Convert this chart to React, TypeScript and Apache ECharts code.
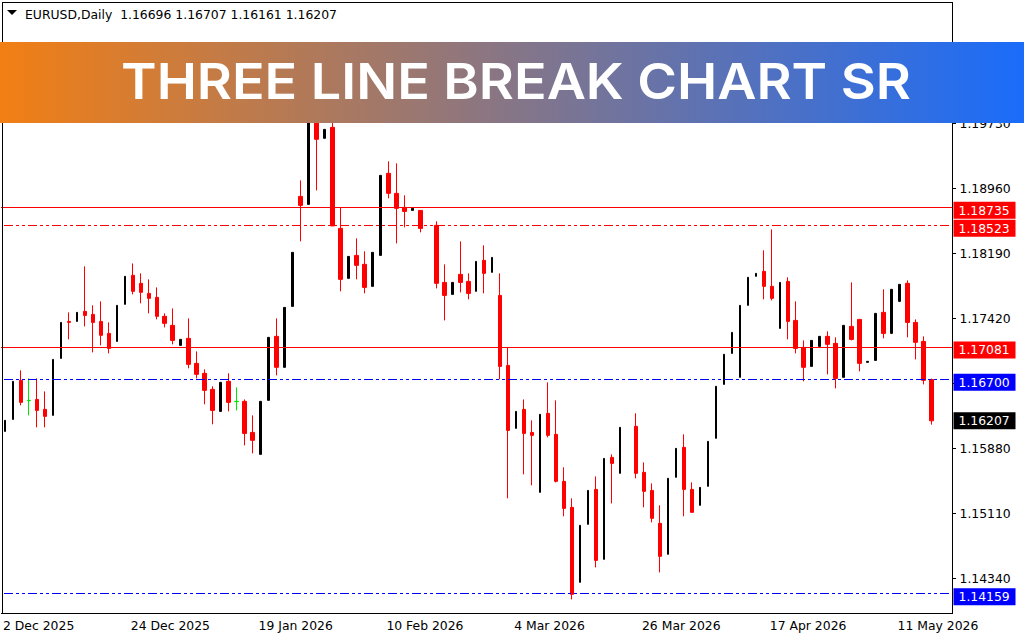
import { useEffect, useRef } from "react";
import * as echarts from "echarts";

const symbolTitle = "EURUSD,Daily  1.16696 1.16707 1.16161 1.16207";
const bannerTitle = "THREE LINE BREAK CHART SR";

const dateTicks = [
  "2 Dec 2025", "24 Dec 2025", "19 Jan 2026", "10 Feb 2026",
  "4 Mar 2026", "26 Mar 2026", "17 Apr 2026", "11 May 2026",
];
const tickEvery = 16;
const barSlots = 119; // the last two slots stay empty, as the terminal's chart shift

const priceTicks = [1.1434, 1.1511, 1.1588, 1.1665, 1.1742, 1.1819, 1.1896, 1.1973];
const priceLabels = [1.1434, 1.1511, 1.1588, 1.1742, 1.1819, 1.1896, 1.1973];

const opens = [
  1.16081, 1.16223, 1.16686, 1.16449, 1.16460, 1.16342, 1.16271, 1.16946, 1.17384, 1.17384,
  1.17503, 1.17467, 1.17384, 1.17242, 1.17147, 1.17586, 1.17930, 1.17835, 1.17716, 1.17669,
  1.17444, 1.17337, 1.17100, 1.17183, 1.16887, 1.16769, 1.16579, 1.16318, 1.16674, 1.16437,
  1.16437, 1.16069, 1.15809, 1.16449, 1.17207, 1.16840, 1.17562, 1.18865, 1.18770, 1.19860,
  1.19553, 1.19683, 1.18486, 1.17894, 1.18166, 1.18060, 1.17799, 1.18166, 1.19138, 1.18901,
  1.18735, 1.18699, 1.18699, null, 1.18522, 1.17846, 1.17704, 1.17941, 1.17858, 1.17740,
  1.18107, 1.17965, 1.17692, 1.16863, 1.16117, 1.16342, 1.16069, 1.15359, 1.16295, 1.16046,
  1.15489, 1.15181, 1.14293, 1.14980, 1.15394, 1.14565, 1.15773, 1.15584, null, 1.16141,
  1.15596, 1.15382, 1.14992, 1.14625, 1.15537, 1.15892, 1.15394, 1.15205, 1.15430, 1.15999,
  1.16638, 1.17005, 1.16721, 1.17574, 1.17918, 1.17977, 1.17799, 1.17301, 1.17858, 1.17396,
  1.17076, 1.16851, 1.17088, 1.17207, 1.17124, 1.16721, 1.17325, 1.17408, 1.16899, 1.16922,
  1.17491, 1.17242, 1.17621, 1.17835, 1.17372, 1.17147, 1.16696,
];
const closes = [
  1.16212, 1.16674, 1.16425, 1.16445, 1.16330, 1.16259, 1.16934, 1.17372, 1.17372, 1.17491,
  1.17455, 1.17372, 1.17219, 1.17064, 1.17574, 1.17918, 1.17740, 1.17728, 1.17657, 1.17444,
  1.17361, 1.17159, 1.17171, 1.16875, 1.16757, 1.16567, 1.16330, 1.16662, 1.16425, 1.16433,
  1.16057, 1.15975, 1.16437, 1.17195, 1.16840, 1.17550, 1.18202, 1.18758, 1.19860, 1.19541,
  1.19659, 1.18515, 1.17882, 1.18154, 1.18048, 1.17787, 1.18202, 1.19114, 1.18901, 1.18723,
  1.18687, 1.18723, 1.18486, null, 1.17835, 1.17692, 1.17846, 1.17846, 1.17716, 1.18095,
  1.17953, 1.18142, 1.16851, 1.16093, 1.16318, 1.16057, 1.16034, 1.16283, 1.16034, 1.15489,
  1.15169, 1.14151, 1.14968, 1.15382, 1.14553, 1.15761, 1.15702, 1.16129, null, 1.15584,
  1.15371, 1.15051, 1.14601, 1.15525, 1.15880, 1.15394, 1.15122, 1.15418, 1.15963, 1.16615,
  1.16994, 1.17254, 1.17574, 1.17906, 1.17953, 1.17799, 1.17657, 1.17846, 1.17384, 1.17064,
  1.16840, 1.17159, 1.17207, 1.17112, 1.16709, 1.17337, 1.17171, 1.16887, 1.16911, 1.17479,
  1.17242, 1.17764, 1.17823, 1.17372, 1.17136, 1.16686, 1.16207,
];
const lows = [
  1.16081, 1.16223, 1.16390, 1.16271, 1.16129, 1.16129, 1.16271, 1.16946, 1.17171, 1.17384,
  1.17325, 1.17017, 1.17100, 1.17005, 1.17147, 1.17586, 1.17704, 1.17598, 1.17479, 1.17408,
  1.17313, 1.17112, 1.17100, 1.16828, 1.16709, 1.16402, 1.16165, 1.16318, 1.16318, 1.16330,
  1.15915, 1.15820, 1.15809, 1.16449, 1.16745, 1.16840, 1.17562, 1.18332, 1.18770, 1.18936,
  1.19553, 1.18515, 1.17740, 1.17894, 1.17882, 1.17716, 1.17799, 1.18166, 1.18842, 1.18308,
  1.18498, 1.18699, 1.18439, null, 1.17775, 1.17396, 1.17704, 1.17728, 1.17645, 1.17740,
  1.17716, 1.17965, 1.16698, 1.15288, 1.16117, 1.15572, 1.15442, 1.15359, 1.16010, 1.15477,
  1.15075, 1.14091, 1.14293, 1.14980, 1.14470, 1.14565, 1.15228, 1.15584, null, 1.15525,
  1.15181, 1.15003, 1.14411, 1.14625, 1.15537, 1.15075, 1.15122, 1.15205, 1.15430, 1.15999,
  1.16638, 1.17005, 1.16721, 1.17574, 1.17918, 1.17645, 1.17633, 1.17301, 1.17171, 1.17005,
  1.16674, 1.16851, 1.17088, 1.16757, 1.16591, 1.16721, 1.17159, 1.16792, 1.16899, 1.16922,
  1.17183, 1.17242, 1.17621, 1.17195, 1.16934, 1.16638, 1.16161,
];
const highs = [
  1.16212, 1.16674, 1.16804, 1.16709, 1.16709, 1.16555, 1.16934, 1.17372, 1.17491, 1.17491,
  1.18036, 1.17574, 1.17621, 1.17372, 1.17574, 1.17918, 1.18071, 1.17953, 1.17882, 1.17787,
  1.17479, 1.17538, 1.17171, 1.17420, 1.17029, 1.16816, 1.16615, 1.16662, 1.16769, 1.16603,
  1.16460, 1.16271, 1.16437, 1.17195, 1.17420, 1.17550, 1.18202, 1.19055, 1.19860, 1.19950,
  1.19659, 1.19790, 1.18735, 1.18154, 1.18368, 1.18214, 1.18202, 1.19114, 1.19280, 1.19256,
  1.18877, 1.18723, 1.18699, null, 1.18569, 1.18060, 1.17846, 1.18332, 1.17953, 1.18095,
  1.18285, 1.18142, 1.17953, 1.17076, 1.16318, 1.16460, 1.16212, 1.16283, 1.16662, 1.16449,
  1.15655, 1.15288, 1.14968, 1.15382, 1.15548, 1.15761, 1.15809, 1.16129, null, 1.16295,
  1.15714, 1.15465, 1.15205, 1.15525, 1.15880, 1.16046, 1.15477, 1.15418, 1.15963, 1.16615,
  1.16994, 1.17254, 1.17574, 1.17906, 1.17953, 1.18226, 1.18474, 1.17846, 1.17906, 1.17621,
  1.17159, 1.17159, 1.17207, 1.17266, 1.17195, 1.17337, 1.17846, 1.17408, 1.16911, 1.17479,
  1.17764, 1.17764, 1.17823, 1.17870, 1.17408, 1.17207, 1.16707,
];
const greenDojis = [3, 29];

const solidLevels = [1.18735, 1.17081];
const redDashLevels = [1.18523];
const blueDashLevels = [1.167, 1.14159];
const lastPrice = 1.16207;

const FONT = "DejaVu Sans";
const FONT_SIZE = 12.4;
const DASH = [9, 3, 3, 3, 3, 3]; // dash dot dot, as the terminal draws it

const categories = Array.from({ length: barSlots }, (_, i) =>
  i % tickEvery === 0 ? dateTicks[i / tickEvery] ?? "" : ""
);

function candleRows(keep: (i: number) => boolean) {
  return opens.map((o, i) =>
    o !== null && keep(i) ? [o, closes[i], lows[i], highs[i]] : ["-", "-", "-", "-"]
  );
}

function priceTag(bg: string, offsetY = 3) {
  return {
    show: true,
    position: "end",
    distance: 2,
    offset: [0, offsetY],
    formatter: (p: { value: number }) => Number(p.value).toFixed(5),
    color: "#fff",
    fontFamily: FONT,
    fontSize: FONT_SIZE,
    backgroundColor: bg,
    width: 57,
    height: 17,
    lineHeight: 17,
    padding: [0, 0, 0, 5],
  };
}

function levelLine(value: number, color: string, dashed: boolean) {
  return {
    yAxis: value,
    lineStyle: dashed
      ? { color, width: 1, type: DASH, dashOffset: 20.5 }
      : { color, width: 1, type: "solid" },
    label: priceTag(color),
  };
}

// the 1px border adds one pixel to barWidth
function candleSeries(color: string, barWidth: number, keep: (i: number) => boolean) {
  return {
    type: "candlestick",
    barWidth,
    data: candleRows(keep),
    itemStyle: { color, color0: color, borderColor: color, borderColor0: color, borderWidth: 1 },
    clip: false,
  };
}

export default function App() {
  const chartRef = useRef<HTMLDivElement>(null);

  useEffect(() => {
    if (!chartRef.current) return;
    const chart = echarts.init(chartRef.current, null, { renderer: "svg" });

    const isDoji = (i: number) => greenDojis.includes(i);
    const isUp = (i: number) => (closes[i] ?? 0) > (opens[i] ?? 0);

    chart.setOption({
      animation: false,
      backgroundColor: "#fff",
      grid: { left: -0.5, top: 2.4, width: 952, height: 611 },
      xAxis: {
        type: "category",
        data: categories,
        boundaryGap: true,
        axisLine: { lineStyle: { color: "#000", width: 1 } },
        axisTick: { length: 3, interval: tickEvery - 1, alignWithLabel: true, lineStyle: { color: "#000" } },
        axisLabel: {
          interval: tickEvery - 1,
          align: "left",
          margin: 6,
          padding: [0, 0, 0, -2],
          color: "#000",
          fontFamily: FONT,
          fontSize: FONT_SIZE,
          hideOverlap: false,
        },
      },
      yAxis: {
        type: "value",
        position: "right",
        offset: 1,
        min: 1.13925,
        max: 1.21163,
        splitLine: { show: false },
        axisLine: { show: true, lineStyle: { color: "#000", width: 1 } },
        axisTick: { show: true, length: 3, customValues: priceTicks, lineStyle: { color: "#000" } },
        axisLabel: {
          customValues: priceLabels,
          margin: 7,
          color: "#000",
          fontFamily: FONT,
          fontSize: FONT_SIZE,
          formatter: (v: number) => v.toFixed(5),
        },
      },
      series: [
        candleSeries("#000", 2, (i) => isUp(i)),
        candleSeries("#00e600", 4, (i) => isDoji(i)),
        candleSeries("#ff0000", 4, (i) => !isUp(i) && !isDoji(i)),
        {
          type: "line",
          data: [],
          z: 10,
          markLine: {
            silent: true,
            symbol: "none",
            precision: 5,
            data: [
              ...solidLevels.map((v) => levelLine(v, "#ff0000", false)),
              ...redDashLevels.map((v) => levelLine(v, "#ff0000", true)),
              ...blueDashLevels.map((v) => levelLine(v, "#0000ff", true)),
              { yAxis: lastPrice, lineStyle: { width: 0, color: "rgba(0,0,0,0)" }, label: priceTag("#000", 0) },
            ],
          },
        },
      ],
      graphic: [
        { type: "line", z: 50, shape: { x1: 2.5, y1: 2, x2: 2.5, y2: 613 }, style: { stroke: "#000", lineWidth: 1 } },
        { type: "line", z: 50, shape: { x1: 2, y1: 2.5, x2: 953, y2: 2.5 }, style: { stroke: "#000", lineWidth: 1 } },
        { type: "polygon", z: 50, shape: { points: [[7, 10], [17, 10], [12, 15]] }, style: { fill: "#000" } },
        {
          type: "text",
          z: 50,
          x: 25,
          y: 14,
          style: { text: symbolTitle, fill: "#000", font: `${FONT_SIZE}px "${FONT}"`, verticalAlign: "middle" },
        },
        {
          type: "rect",
          z: 60,
          shape: { x: 0, y: 42, width: 1024, height: 81 },
          style: {
            fill: new echarts.graphic.LinearGradient(0, 0, 1, 0, [
              { offset: 0, color: "#f27f14" },
              { offset: 1, color: "#1a6cfa" },
            ]),
          },
        },
        {
          type: "text",
          z: 61,
          x: 516,
          y: 81,
          scaleX: 1.1,
          style: {
            text: bannerTitle,
            fill: "#fff",
            font: '600 49px "Inter"',
            align: "center",
            verticalAlign: "middle",
          },
        },
      ],
    });

    return () => chart.dispose();
  }, []);

  return (
    <>
      {/* keep the level lines on whole pixels; candles stay out of it, crisp edges drop their border */}
      <style>{'svg path[fill="none"] { shape-rendering: crispEdges; }'}</style>
      <div
        ref={chartRef}
        style={{ position: "fixed", left: 0, top: 0, width: 1024, height: 640 }}
      />
    </>
  );
}
